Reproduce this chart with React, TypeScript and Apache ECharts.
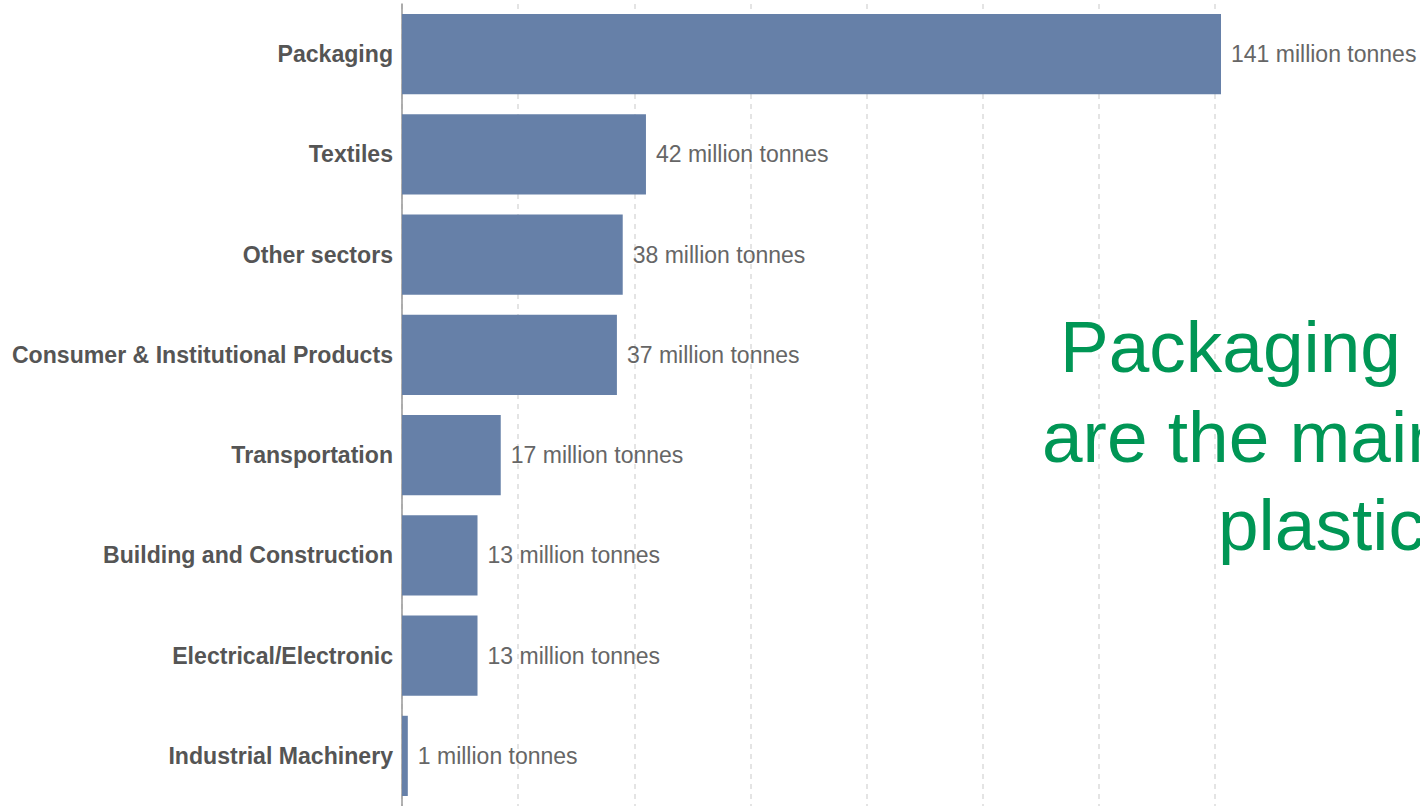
import React, { useEffect, useRef } from "react";
import * as echarts from "echarts";

const categories = [
  "Packaging",
  "Textiles",
  "Other sectors",
  "Consumer & Institutional Products",
  "Transportation",
  "Building and Construction",
  "Electrical/Electronic",
  "Industrial Machinery",
];
const values = [141, 42, 38, 37, 17, 13, 13, 1];
const unitLabel = "million tonnes";
const noteLines = ["Packaging and textiles", "are the main sources of", "plastic waste"];

const FONT = "'Liberation Sans', Arial, Helvetica, sans-serif";

export default function App() {
  const ref = useRef<HTMLDivElement>(null);
  useEffect(() => {
    document.body.style.margin = "0";
    if (!ref.current) return;
    const chart = echarts.init(ref.current, null, { renderer: "svg" });
    const noteX = [1060, 1042, 1218];
    const noteY = [346, 436, 524];
    chart.setOption({
      animation: false,
      textStyle: { fontFamily: FONT },
      grid: { left: 402, right: 199, top: 4, bottom: 0, containLabel: false },
      xAxis: {
        type: "value",
        min: 0,
        max: 141,
        interval: 20,
        axisLabel: { show: false },
        axisLine: { show: false },
        axisTick: { show: false },
        splitLine: {
          show: true,
          showMaxLine: false,
          lineStyle: { color: "#dcdcdc", type: [5, 5], width: 1.5 },
        },
      },
      yAxis: {
        type: "category",
        inverse: true,
        data: categories,
        axisTick: { show: false },
        axisLine: { show: true, lineStyle: { color: "#999999", width: 1.5 } },
        axisLabel: {
          color: "#555555",
          fontWeight: "bold",
          fontSize: 23.1,
          fontFamily: FONT,
          margin: 9,
        },
        splitLine: { show: false },
      },
      series: [
        {
          type: "bar",
          data: values,
          barCategoryGap: "20%",
          itemStyle: { color: "#6680a8" },
          label: {
            show: true,
            position: "right",
            distance: 10,
            color: "#666666",
            fontSize: 23,
            fontFamily: FONT,
            formatter: (p: any) => `${p.value} ${unitLabel}`,
          },
        },
      ],
      graphic: noteLines.map((t, i) => ({
        type: "text",
        x: noteX[i],
        y: noteY[i],
        style: {
          text: t,
          fill: "#009655",
          fontSize: 73,
          fontFamily: FONT,
          align: "left",
          verticalAlign: "middle",
        },
        z: 100,
      })),
    });
    return () => chart.dispose();
  }, []);
  return <div ref={ref} style={{ width: 1420, height: 806 }} />;
}
